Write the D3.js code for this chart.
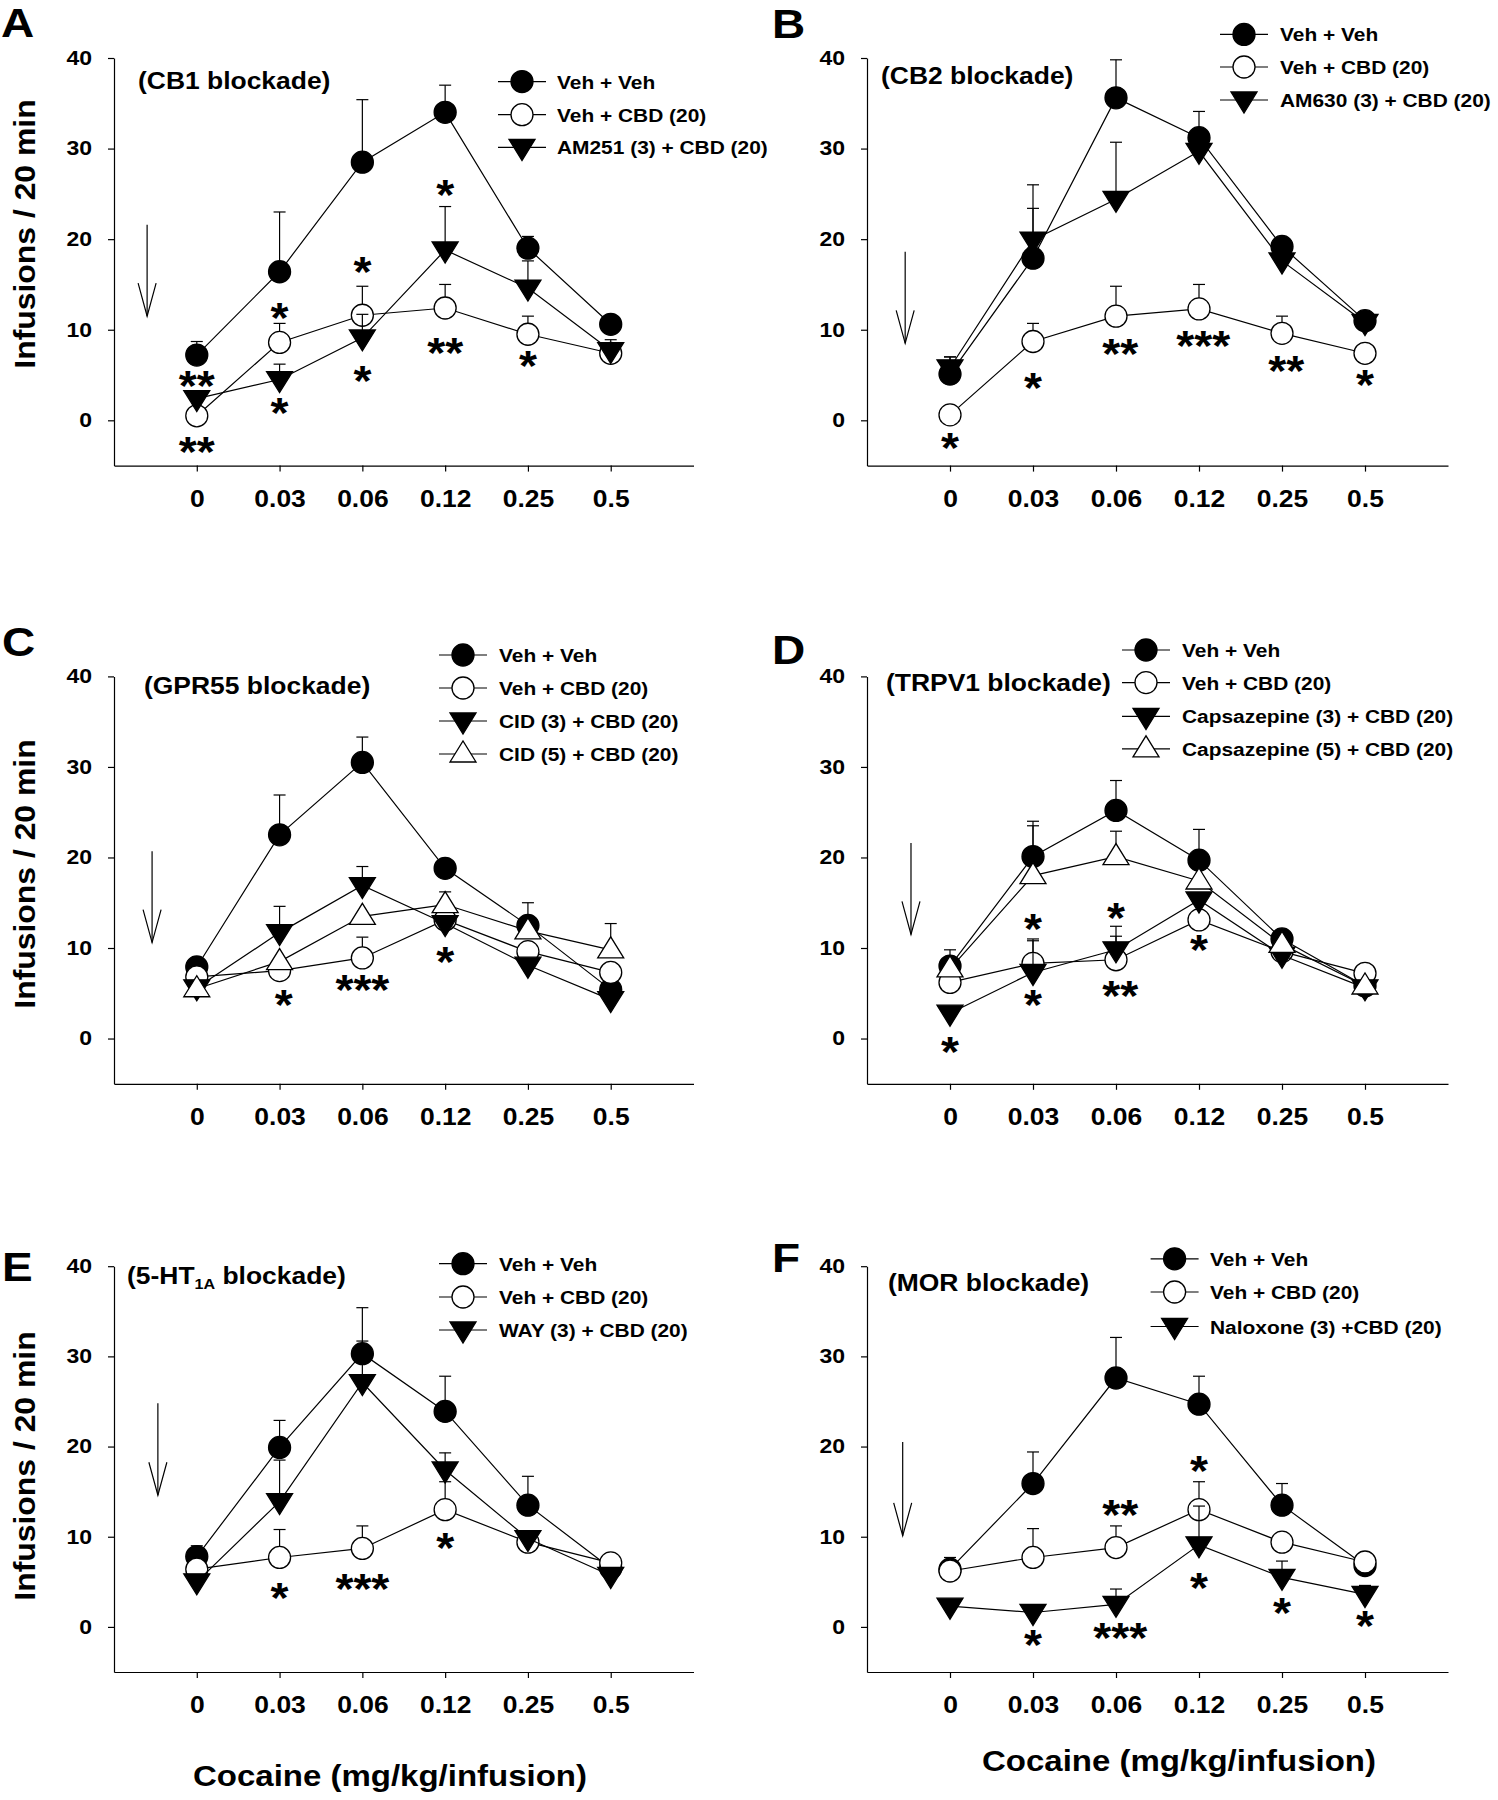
<!DOCTYPE html>
<html><head><meta charset="utf-8">
<script src="https://cdn.jsdelivr.net/npm/d3@7"></script>
<style>
body{margin:0;background:#fff}
svg{display:block}
text{font-family:"Liberation Sans",Arial,Helvetica,sans-serif;font-weight:bold;fill:#000}
</style>
</head><body>
<svg id="chart" width="1498" height="1800"></svg>
<script>
// ---------------- DATA ----------------
const doseLabels = ["0", "0.03", "0.06", "0.12", "0.25", "0.5"];
const yTickValues = [0, 10, 20, 30, 40];

// Panel A (CB1 blockade)
const aVehVeh = [7.2, 16.4, 28.5, 34.0, 19.0, 10.6];
const aVehVehSem = [1.5, 6.6, 6.9, 3.0, 1.3, 0];
const aVehCbd = [0.5, 8.6, 11.6, 12.4, 9.5, 7.4];
const aVehCbdSem = [0, 2.1, 3.2, 2.6, 2.0, 0.6];
const aAm251 = [2.4, 4.5, 9.1, 18.8, 14.6, 7.7];
const aAm251Sem = [0, 1.7, 2.6, 4.8, 3.0, 1.2];
const aLegend = ["Veh + Veh", "Veh + CBD (20)", "AM251 (3) + CBD (20)"];
const aStars = [[0, 4.2, "**"], [0, -3.1, "**"], [1, 11.7, "*"], [1, 1.3, "*"], [2, 16.8, "*"], [2, 4.8, "*"], [3, 25.3, "*"], [3, 7.9, "**"], [4, 6.4, "*"]];
const aArrow = [-0.6, 21.6, 11.5];

// Panel B (CB2 blockade)
const bVehVeh = [5.1, 17.9, 35.6, 31.2, 19.2, 11.0];
const bVehVehSem = [1.9, 5.5, 4.2, 2.9, 0.6, 0];
const bVehCbd = [0.6, 8.7, 11.5, 12.3, 9.6, 7.4];
const bVehCbdSem = [0, 2.0, 3.3, 2.7, 1.9, 0];
const bAm630 = [5.8, 19.9, 24.4, 29.7, 17.6, 10.8];
const bAm630Sem = [1.2, 6.1, 6.3, 0, 0, 0];
const bLegend = ["Veh + Veh", "Veh + CBD (20)", "AM630 (3) + CBD (20)"];
const bStars = [[0, -2.6, "*"], [1, 4.0, "*"], [2.05, 7.8, "**"], [3.05, 8.7, "***"], [4.05, 5.9, "**"], [5, 4.3, "*"]];
const bArrow = [-0.54, 18.6, 8.5];

// Panel C (GPR55 blockade)
const cVehVeh = [7.9, 22.5, 30.5, 18.8, 12.5, 5.4];
const cVehVehSem = [0, 4.4, 2.8, 0, 2.5, 0];
const cVehCbd = [6.8, 7.5, 8.9, 13.1, 9.6, 7.3];
const cVehCbdSem = [0, 0, 2.3, 0, 0, 0];
const cCid3 = [5.6, 11.7, 16.9, 12.7, 8.1, 4.3];
const cCid3Sem = [0, 2.9, 2.1, 0, 0, 0];
const cCid5 = [5.5, 8.5, 13.5, 14.8, 11.9, 9.8];
const cCid5Sem = [0, 0, 0, 1.4, 0, 2.9];
const cLegend = ["Veh + Veh", "Veh + CBD (20)", "CID (3) + CBD (20)", "CID (5) + CBD (20)"];
const cStars = [[1.05, 4.1, "*"], [2, 5.8, "***"], [3, 8.9, "*"]];
const cArrow = [-0.54, 20.7, 10.6];

// Panel D (TRPV1 blockade)
const dVehVeh = [8.0, 20.1, 25.2, 19.7, 11.0, 5.8];
const dVehVehSem = [1.8, 3.9, 3.3, 3.4, 0, 0];
const dVehCbd = [6.2, 8.3, 8.7, 13.1, 9.6, 7.2];
const dVehCbdSem = [0, 2.5, 2.6, 0, 0, 0];
const dCaps3 = [2.8, 7.3, 9.8, 15.3, 9.2, 5.6];
const dCaps3Sem = [0, 3.7, 2.6, 0.6, 0, 0];
const dCaps5 = [7.7, 18.0, 20.1, 17.4, 10.4, 5.8];
const dCaps5Sem = [0, 5.5, 2.8, 0, 0, 0];
const dLegend = ["Veh + Veh", "Veh + CBD (20)", "Capsazepine (3) + CBD (20)", "Capsazepine (5) + CBD (20)"];
const dStars = [[0, -1.0, "*"], [1, 12.5, "*"], [1, 4.1, "*"], [2, 13.8, "*"], [2.05, 5.1, "**"], [3, 10.2, "*"]];
const dArrow = [-0.47, 21.6, 11.5];

// Panel E (5-HT1A blockade)
const eVehVeh = [7.8, 19.9, 30.3, 23.9, 13.5, 6.5];
const eVehVehSem = [1.2, 3.0, 5.1, 3.9, 3.2, 0];
const eVehCbd = [6.4, 7.7, 8.7, 13.0, 9.4, 7.1];
const eVehCbdSem = [0, 3.1, 2.5, 3.1, 0, 0];
const eWay = [5.0, 13.9, 27.1, 17.4, 9.8, 5.7];
const eWaySem = [0.8, 4.6, 4.6, 1.9, 0, 0];
const eLegend = ["Veh + Veh", "Veh + CBD (20)", "WAY (3) + CBD (20)"];
const eStars = [[1, 3.7, "*"], [2, 4.7, "***"], [3, 9.2, "*"]];
const eArrow = [-0.47, 24.8, 14.6];

// Panel F (MOR blockade)
const fVehVeh = [6.4, 15.9, 27.6, 24.7, 13.5, 6.8];
const fVehVehSem = [1.3, 3.5, 4.5, 3.1, 2.4, 0];
const fVehCbd = [6.2, 7.7, 8.8, 13.0, 9.4, 7.2];
const fVehCbdSem = [0, 3.2, 2.4, 3.1, 0, 0];
const fNalox = [2.3, 1.6, 2.5, 9.1, 5.5, 3.6];
const fNaloxSem = [0, 0, 1.7, 4.3, 1.8, 1.0];
const fLegend = ["Veh + Veh", "Veh + CBD (20)", "Naloxone (3) +CBD (20)"];
const fStars = [[1, -1.6, "*"], [2.05, 12.8, "**"], [2.05, -0.8, "***"], [3, 17.7, "*"], [3, 4.8, "*"], [4, 2.0, "*"], [5, 0.5, "*"]];
const fArrow = [-0.57, 20.5, 10.1];

const yTitle = "Infusions / 20 min";
const xTitle = "Cocaine (mg/kg/infusion)";

// ---------------- LAYOUT ----------------
const SX = 1.15; // horizontal stretch of the original typeface
const LEG_SX = 1.1;
const panels = [
  {letter: "A", sub: "(CB1 blockade)", series: [[aVehVeh, aVehVehSem, "fc"], [aVehCbd, aVehCbdSem, "oc"], [aAm251, aAm251Sem, "fd"]],
   legend: aLegend, stars: aStars, arrow: aArrow,
   x0: 114, x1: 693.5, yTop: 58, yBot: 465.6, letterPos: [1, 37], subPos: [138, 81],
   legX: 522, legTX: 557, legY: [81.6, 114.7, 147.4], yTitlePos: [25, 234]},
  {letter: "B", sub: "(CB2 blockade)", series: [[bVehVeh, bVehVehSem, "fc"], [bVehCbd, bVehCbdSem, "oc"], [bAm630, bAm630Sem, "fd"]],
   legend: bLegend, stars: bStars, arrow: bArrow,
   x0: 867, x1: 1448, yTop: 58, yBot: 465.6, letterPos: [772, 38], subPos: [881, 76],
   legX: 1244, legTX: 1280, legY: [34.4, 67, 100]},
  {letter: "C", sub: "(GPR55 blockade)", series: [[cVehVeh, cVehVehSem, "fc"], [cVehCbd, cVehCbdSem, "oc"], [cCid3, cCid3Sem, "fd"], [cCid5, cCid5Sem, "ou"]],
   legend: cLegend, stars: cStars, arrow: cArrow,
   x0: 114, x1: 693.5, yTop: 676.4, yBot: 1083.8, letterPos: [2, 656], subPos: [144, 686],
   legX: 463, legTX: 499, legY: [655, 688, 721, 754], yTitlePos: [25, 874]},
  {letter: "D", sub: "(TRPV1 blockade)", series: [[dVehVeh, dVehVehSem, "fc"], [dVehCbd, dVehCbdSem, "oc"], [dCaps3, dCaps3Sem, "fd"], [dCaps5, dCaps5Sem, "ou"]],
   legend: dLegend, stars: dStars, arrow: dArrow,
   x0: 867, x1: 1448, yTop: 676.4, yBot: 1083.8, letterPos: [772, 664], subPos: [886, 682.6],
   legX: 1146, legTX: 1182, legY: [650, 682.6, 716.4, 748.8]},
  {letter: "E", sub: null, series: [[eVehVeh, eVehVehSem, "fc"], [eVehCbd, eVehCbdSem, "oc"], [eWay, eWaySem, "fd"]],
   legend: eLegend, stars: eStars, arrow: eArrow,
   x0: 114, x1: 693.5, yTop: 1266.2, yBot: 1672, letterPos: [2, 1281], subPos: [127, 1275.5],
   legX: 463, legTX: 499, legY: [1263.7, 1297, 1330], yTitlePos: [25, 1466], xTitlePos: [390, 1775]},
  {letter: "F", sub: "(MOR blockade)", series: [[fVehVeh, fVehVehSem, "fc"], [fVehCbd, fVehCbdSem, "oc"], [fNalox, fNaloxSem, "fd"]],
   legend: fLegend, stars: fStars, arrow: fArrow,
   x0: 867, x1: 1448, yTop: 1266.2, yBot: 1672, letterPos: [772, 1272], subPos: [888, 1283],
   legX: 1174.6, legTX: 1210, legY: [1258.8, 1292, 1326.5], xTitlePos: [1179, 1760]}
];

const svg = d3.select("#chart");

function stext(g, x, y, str, size, anchor, sx) {
  return g.append("text")
    .attr("transform", `translate(${x},${y}) scale(${sx || SX},1)`)
    .attr("font-size", size)
    .attr("text-anchor", anchor || "start")
    .text(str);
}

function marker(g, type, cx, cy) {
  if (type === "fc" || type === "oc") {
    g.append("circle").attr("cx", cx).attr("cy", cy).attr("r", 11)
      .attr("fill", type === "fc" ? "#000" : "#fff")
      .attr("stroke", "#000").attr("stroke-width", 1.3);
  } else {
    const pts = type === "fd"
      ? [[cx - 13, cy - 8], [cx + 13, cy - 8], [cx, cy + 13]]
      : [[cx - 13, cy + 8], [cx + 13, cy + 8], [cx, cy - 13]];
    g.append("path").attr("d", "M" + pts.map(p => p.join(",")).join("L") + "Z")
      .attr("fill", type === "fd" ? "#000" : "#fff")
      .attr("stroke", "#000").attr("stroke-width", 1.3).attr("stroke-linejoin", "miter");
  }
}

panels.forEach(p => {
  const g = svg.append("g");
  const x = d3.scaleLinear().domain([-1, 6]).range([p.x0, p.x1]);
  const y = d3.scaleLinear().domain([-5, 40]).range([p.yBot, p.yTop]);

  // axes
  const ya = g.append("g").attr("transform", `translate(${p.x0},0)`)
    .call(d3.axisLeft(y).tickValues(yTickValues).tickFormat(d3.format("d"))
      .tickSize(6).tickSizeOuter(0).tickPadding(13));
  ya.selectAll("text").attr("font-size", 20).attr("transform", `scale(${SX},1)`);
  const xa = g.append("g").attr("transform", `translate(0,${p.yBot})`)
    .call(d3.axisBottom(x).tickValues(d3.range(doseLabels.length)).tickFormat(i => doseLabels[i])
      .tickSize(6).tickSizeOuter(0).tickPadding(19));
  xa.selectAll("text").attr("font-size", 23).attr("transform", `scale(${SX},1)`);
  [ya, xa].forEach(a => {
    a.attr("font-family", null).attr("font-size", null);
    a.selectAll("path,line").attr("stroke", "#000").attr("stroke-width", 1.2);
  });

  // arrow
  const [ai, af, at] = p.arrow;
  const ax = x(ai), ayF = y(af), ayT = y(at);
  g.append("line").attr("x1", ax).attr("x2", ax).attr("y1", ayF).attr("y2", ayT)
    .attr("stroke", "#000").attr("stroke-width", 1.2);
  g.append("path").attr("d", `M${ax - 9},${ayT - 33}L${ax},${ayT}L${ax + 9},${ayT - 33}`)
    .attr("fill", "none").attr("stroke", "#000").attr("stroke-width", 1.2);

  // series
  const line = d3.line().x((d, i) => x(i)).y(d => y(d));
  p.series.forEach(([vals, sem, type]) => {
    const sg = g.append("g");
    sg.append("path").datum(vals).attr("d", line)
      .attr("fill", "none").attr("stroke", "#000").attr("stroke-width", 1.2);
    vals.forEach((v, i) => {
      if (sem[i] > 0) {
        const cx = x(i), top = y(v + sem[i]);
        sg.append("line").attr("x1", cx).attr("x2", cx).attr("y1", y(v)).attr("y2", top)
          .attr("stroke", "#000").attr("stroke-width", 1.2);
        sg.append("line").attr("x1", cx - 6).attr("x2", cx + 6).attr("y1", top).attr("y2", top)
          .attr("stroke", "#000").attr("stroke-width", 1.2);
      }
    });
    vals.forEach((v, i) => marker(sg, type, x(i), y(v)));
  });

  // significance stars
  p.stars.forEach(([i, v, s]) => {
    stext(g, x(i), y(v) + 18, s, 42, "middle", 1.1);
  });

  // legend
  p.legend.forEach((lab, k) => {
    const cy = p.legY[k];
    g.append("line").attr("x1", p.legX - 24).attr("x2", p.legX + 24).attr("y1", cy).attr("y2", cy)
      .attr("stroke", "#000").attr("stroke-width", 1.2);
    marker(g, p.series[k][2], p.legX, cy);
    stext(g, p.legTX, cy + 7, lab, 19, "start", LEG_SX);
  });

  // panel letter
  stext(g, p.letterPos[0], p.letterPos[1], p.letter, 40, "start");

  // sub-title
  if (p.sub) {
    stext(g, p.subPos[0], p.subPos[1] + 8, p.sub, 23, "start");
  } else {
    const t = g.append("text")
      .attr("transform", `translate(${p.subPos[0]},${p.subPos[1] + 8}) scale(${SX},1)`)
      .attr("font-size", 23);
    t.append("tspan").text("(5-HT");
    t.append("tspan").attr("font-size", 14).attr("dy", 5).text("1A");
    t.append("tspan").attr("dy", -5).text(" blockade)");
  }

  // axis titles
  if (p.yTitlePos) {
    g.append("text")
      .attr("transform", `translate(${p.yTitlePos[0]},${p.yTitlePos[1]}) rotate(-90) scale(1.1,1)`)
      .attr("font-size", 29).attr("text-anchor", "middle").attr("dy", "0.36em")
      .text(yTitle);
  }
  if (p.xTitlePos) {
    stext(g, p.xTitlePos[0], p.xTitlePos[1] + 11, xTitle, 30, "middle", 1.1);
  }
});
</script>
</body></html>
